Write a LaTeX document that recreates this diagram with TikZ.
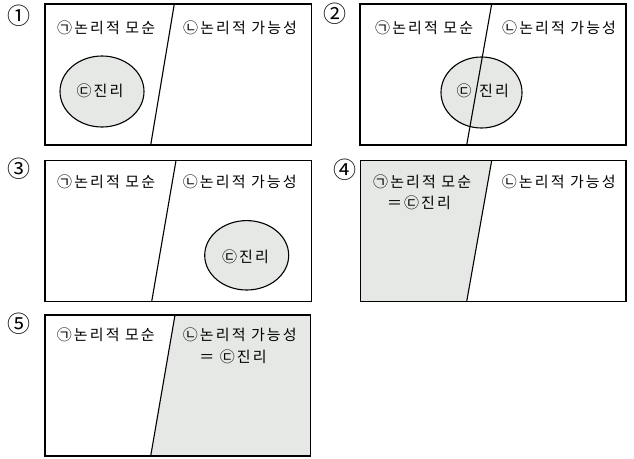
\documentclass[tikz,border=0pt]{standalone}
\usepackage{fontspec}
\newfontfamily\kr[LetterSpace=14]{Noto Sans CJK KR}
\newfontfamily\krnum{Noto Sans CJK KR}
\definecolor{shadegray}{HTML}{E5E8E4}
\tikzset{
  frame/.style={draw, line width=1.2pt},
  cut/.style={line width=1.1pt},
  truth/.style={draw, line width=1.1pt, fill=shadegray},
  lab/.style={anchor=west, inner sep=0pt, font=\kr\fontsize{15}{17}\selectfont},
  mid/.style={inner sep=0pt, font=\kr\fontsize{15}{17}\selectfont},
  num/.style={inner sep=0pt, font=\krnum\fontsize{23}{25}\selectfont},
}
\begin{document}
\begin{tikzpicture}[x=1pt, y=-1pt]
\useasboundingbox (0,0) rectangle (634,458);

% Panel 1: truth inside contradiction
\node[num] (n1) at (19,16) {①};
\draw[truth] (102,91.5) ellipse [x radius=42pt, y radius=35.5pt];
\draw[frame] (45,4) rectangle (311.5,145);
\draw[cut] (174.3,4) -- (150.7,145);
\node[lab] (a1) at (57,28) {㉠논리적 모순};
\node[lab] (b1) at (183,28) {㉡논리적 가능성};
\node[mid] (c1) at (100,91) {㉢진리};

% Panel 2: truth across the cut
\node[num] (n2) at (335,14) {②};
\draw[truth] (481.5,92.5) ellipse [x radius=40.5pt, y radius=35.5pt];
\draw[frame] (360,4) rectangle (626,145);
\draw[cut] (491.7,4) -- (466.7,145);
\node[lab] (a2) at (375,28) {㉠논리적 모순};
\node[lab] (b2) at (502,28) {㉡논리적 가능성};
\node[mid] (c2) at (464,91) {㉢};
\node[mid] (d2) at (494,91) {진리};

% Panel 3: truth inside possibility
\node[num] (n3) at (19,169) {③};
\draw[truth] (246.7,255.3) ellipse [x radius=42pt, y radius=34.7pt];
\draw[frame] (45,160.5) rectangle (311.5,301.5);
\draw[cut] (176,160.5) -- (151.7,301.5);
\node[lab] (a3) at (57,181.7) {㉠논리적 모순};
\node[lab] (b3) at (182.7,181.7) {㉡논리적 가능성};
\node[mid] (c3) at (245.5,257) {㉢진리};

% Panel 4: contradiction = truth
\node[num] (n4) at (345,170) {④};
\fill[shadegray] (360.7,160.5) -- (491.7,160.5) -- (466.7,301.5) -- (360.7,301.5) -- cycle;
\draw[frame] (360.7,160.5) rectangle (626,301.5);
\draw[cut] (491.7,160.5) -- (466.7,301.5);
\node[lab] (a4) at (373,181.7) {㉠논리적 모순};
\node[mid] (c4) at (419,203) {＝㉢진리};
\node[lab] (b4) at (501.7,181.7) {㉡논리적 가능성};

% Panel 5: possibility = truth
\node[num] (n5) at (19,324) {⑤};
\fill[shadegray] (175,315) -- (310.5,315) -- (310.5,456) -- (150.7,456) -- cycle;
\draw[frame] (45,315) rectangle (310.5,456);
\draw[cut] (175,315) -- (150.7,456);
\node[lab] (a5) at (56.7,335) {㉠논리적 모순};
\node[lab] (b5) at (182.7,335) {㉡논리적 가능성};
\node[mid] (c5) at (233,356.7) {＝ ㉢진리};
\end{tikzpicture}
\end{document}
